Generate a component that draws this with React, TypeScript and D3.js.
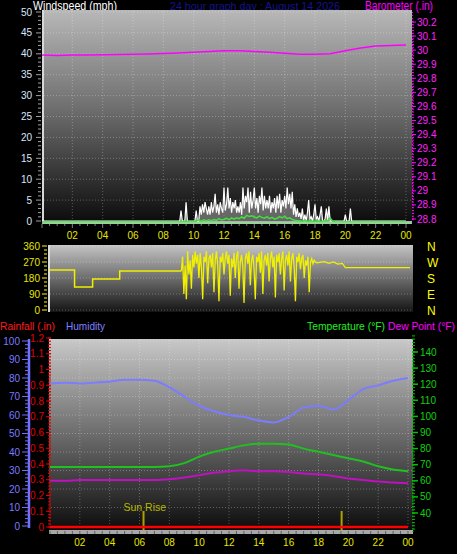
import React from 'react';
import * as d3 from 'd3';

const TITLE = '24 hour graph day : August 14 2026';
const HOUR_TICKS = [2, 4, 6, 8, 10, 12, 14, 16, 18, 20, 22, 24];
const HOUR_LABELS = ['02', '04', '06', '08', '10', '12', '14', '16', '18', '20', '22', '00'];

// Barometer (inHg), hourly 0..24
const BARO_HOURS = [0,1,2,3,4,5,6,7,8,9,10,11,12,13,14,15,16,17,18,19,20,21,22,23,24];
const BARO_VALUES = [29.965,29.962,29.965,29.966,29.968,29.969,29.97,29.973,29.976,29.98,29.985,29.99,29.995,29.996,29.99,29.985,29.978,29.97,29.97,29.975,29.995,30.015,30.03,30.033,30.037];

// Wind gust (mph), 5-minute samples starting 09:00
const GUST_START = 9;
const GUST_VALUES = [
  0,0,2.5,0,0,0,4.5,0,0,0,0,0,
  0,0,2.5,0,0,3.5,1.5,4,2,4.5,3,1.5,
  3.5,1.5,4.5,2,3.5,6.5,2,4,1.5,4.5,3,2,
  8,2.5,4,8,3,5.5,2,4.5,3,5,2,3.5,
  2,4.5,1.5,8,3,6,4.5,8,2,7,3,5,
  8,3,5.5,2,6,4,8,2.5,6,3,5,3,
  6,2,4.5,3,5.5,2,6,3,6.5,2,5,3.5,
  6,3,8,4,6.5,3,7,1.5,4,1,3,1,
  2,0.5,3,0,1.5,0,2,5,0.5,1,0,1.5,
  4,0.5,1,0,1.5,3.5,0,0,0.5,3,0,3.5,
  0,0,0,0,0,0,0,0,0,0,0,0,
  1.5,0,0,0,3,0,0
];
// Average wind (mph), 10-minute samples starting 09:00
const AVG_START = 9;
const AVG_VALUES = [
  0,0,0,0.3,0,0,
  0,0.3,0.5,0.2,0.5,0.3,
  0.5,0.3,0.6,0.4,0.8,0.5,
  0.6,0.9,0.5,1.0,0.7,1.0,
  0.8,1.2,0.9,1.6,1.3,1.5,
  1.2,1.0,1.4,1.1,0.9,1.3,
  0.8,1.1,0.7,0.9,1.3,1.0,
  1.4,0.8,1.0,0.6,0.4,0.3,
  0.3,0.2,0.5,0.1,0.3,0.2,
  0.2,0.3,0.1,0.2,0.4,0.3,
  1.0,0.2,0,0,0,0
];

// Wind direction (degrees)
const DIR_CALM_HOURS = [0, 1.7, 2.9, 4.7, 8.8];
const DIR_CALM_VALUES = [225, 130, 175, 220, 220];
const DIR_GUSTY_START = 8.8;
const DIR_GUSTY_VALUES = [
  220,300,90,250,60,330,200,280,120,310,240,330,
  260,310,180,320,240,60,300,270,330,150,290,310,
  240,320,100,280,330,250,50,300,270,320,200,290,
  330,260,310,80,290,240,320,180,300,330,120,270,
  310,250,40,290,320,260,330,140,280,310,230,60,
  300,270,320,210,330,90,280,310,250,320,160,290,
  330,240,300,70,310,270,320,200,290,330,110,280,
  310,250,330,160,290,320,240,50,300,270,320,230,
  290,310,180,280,250,300,100,270,290,260,280,270
];
const DIR_LATE_HOURS = [17.8, 18.3, 18.6, 18.9, 19.2, 19.5, 19.7, 24];
const DIR_LATE_VALUES = [265, 272, 262, 270, 258, 262, 238, 238];

// Bottom panel, hourly 0..24
const HOURS = [0,1,2,3,4,5,6,7,8,9,10,11,12,13,14,15,16,17,18,19,20,21,22,23,24];
const HUMIDITY = [77,77.5,77,77.5,78,79,79,78.5,75,70,65,62,60,59,57,56,59,64,65,63,68,74,76,78.5,80];
const TEMPERATURE = [68.5,68.5,68.5,68.5,68.5,68.5,68.6,68.6,69,71,75,78,80,82,83,83,82.5,80,78,76,74,72,69,67,66];
const DEW_POINT = [60,60,60.5,60.5,60.5,60.5,60.5,60.5,61,62,63.5,65,66,66.5,66,66,65.5,64.5,64,63,61.5,60.5,59.5,59,58.5];
const RAINFALL = [0,0,0,0,0,0,0,0,0,0,0,0,0,0,0,0,0,0,0,0,0,0,0,0,0];
const SUNRISE = 6.27;
const SUNSET = 19.55;

const FONT = '"Liberation Sans", Arial, sans-serif';

export default function App() {
  const xTop = d3.scaleLinear().domain([0, 24]).range([42, 406]);
  const yWind = d3.scaleLinear().domain([0, 50]).range([221, 12]);
  const yBaro = d3.scaleLinear().domain([28.8, 30.2]).range([219, 22]);

  const xMid = d3.scaleLinear().domain([0, 24]).range([49, 410]);
  const yDir = d3.scaleLinear().domain([0, 360]).range([310, 246]);

  const xBot = d3.scaleLinear().domain([0, 24]).range([50, 408]);
  const yHum = d3.scaleLinear().domain([0, 100]).range([526, 341]);
  const yRain = d3.scaleLinear().domain([0, 1.2]).range([527, 338]);
  const yTemp = d3.scaleLinear().domain([40, 140]).range([513, 352]);

  const baroPath = d3.line<number>().x((d, i) => xTop(BARO_HOURS[i])).y(d => yBaro(d))(BARO_VALUES);

  const gustPts: [number, number][] = [[0, 0], ...GUST_VALUES.map((v, i) => [GUST_START + i / 12, v] as [number, number]), [24, 0]];
  const gustLine = d3.line<[number, number]>().x(d => xTop(d[0])).y(d => yWind(d[1]))(gustPts);
  const gustArea = d3.area<[number, number]>().x(d => xTop(d[0])).y0(yWind(0)).y1(d => yWind(d[1]))(gustPts);
  const avgPts: [number, number][] = [[0, 0], ...AVG_VALUES.map((v, i) => [AVG_START + i / 6, v] as [number, number]), [24, 0]];
  const avgLine = d3.line<[number, number]>().x(d => xTop(d[0])).y(d => yWind(d[1]) + 1)(avgPts);

  const calmPts: [number, number][] = DIR_CALM_HOURS.map((h, i) => [h, DIR_CALM_VALUES[i]]);
  const calmPath = d3.line<[number, number]>().x(d => xMid(d[0])).y(d => yDir(d[1])).curve(d3.curveStepAfter)(calmPts);
  const gustyPts: [number, number][] = [
    ...DIR_GUSTY_VALUES.map((v, i) => [DIR_GUSTY_START + i / 12, v] as [number, number]),
    ...DIR_LATE_HOURS.map((h, i) => [h, DIR_LATE_VALUES[i]] as [number, number]),
  ];
  const gustyPath = d3.line<[number, number]>().x(d => xMid(d[0])).y(d => yDir(d[1]))(gustyPts);

  const humPath = d3.line<number>().x((d, i) => xBot(HOURS[i])).y(d => yHum(d)).curve(d3.curveMonotoneX)(HUMIDITY);
  const tempPath = d3.line<number>().x((d, i) => xBot(HOURS[i])).y(d => yTemp(d)).curve(d3.curveMonotoneX)(TEMPERATURE);
  const dewPath = d3.line<number>().x((d, i) => xBot(HOURS[i])).y(d => yTemp(d)).curve(d3.curveMonotoneX)(DEW_POINT);
  const rainPath = d3.line<number>().x((d, i) => xBot(HOURS[i])).y(d => yRain(d))(RAINFALL);

  const windTicks = d3.range(0, 51, 1);
  const baroTicks = d3.range(0, 15).map(i => 28.8 + i * 0.1);
  const baroMinor = d3.range(0, 71).map(i => 28.8 + i * 0.02);
  const dirTicks = [0, 90, 180, 270, 360];
  const dirMinor = d3.range(0, 361, 22.5);
  const humTicks = d3.range(0, 101, 10);
  const humMinor = d3.range(0, 101, 2);
  const rainTicks = d3.range(0, 13).map(i => i / 10);
  const rainMinor = d3.range(0, 61).map(i => i / 50);
  const tempTicks = d3.range(40, 141, 10);
  const tempMinor = d3.range(30, 151, 2);
  const halfHours = d3.range(0, 49).map(i => i / 2);

  const gridStyle = { stroke: 'rgba(255,255,255,0.28)', strokeWidth: 1, strokeDasharray: '1,2' };
  const fit = { lengthAdjust: 'spacingAndGlyphs' as const };

  return (
    <svg width={457} height={554} style={{ position: 'absolute', left: 0, top: 0, background: '#000' }} fontFamily={FONT}>
      <defs>
        <linearGradient id="gTop" x1="0" y1="0" x2="0" y2="1">
          <stop offset="0" stopColor="#b8b8b8" />
          <stop offset="0.45" stopColor="#707070" />
          <stop offset="1" stopColor="#0a0a0a" />
        </linearGradient>
        <linearGradient id="gMid" x1="0" y1="0" x2="0" y2="1">
          <stop offset="0" stopColor="#c4c4c4" />
          <stop offset="1" stopColor="#141414" />
        </linearGradient>
        <linearGradient id="gBot" x1="0" y1="0" x2="0" y2="1">
          <stop offset="0" stopColor="#c8c8c8" />
          <stop offset="0.5" stopColor="#6a6a6a" />
          <stop offset="1" stopColor="#080808" />
        </linearGradient>
      </defs>
      <rect x={0} y={0} width={457} height={554} fill="#000" />

      {/* Header */}
      <text x={33} y={10} fill="#ffffff" fontSize={12} textLength={84} {...fit}>Windspeed (mph)</text>
      <text x={170} y={10} fill="#14148c" fontSize={11} textLength={170} {...fit}>{TITLE}</text>
      <text x={365} y={10} fill="#ff00ff" fontSize={12} textLength={68} {...fit}>Barometer (.in)</text>

      {/* Top panel */}
      <rect x={42} y={10} width={370} height={214} fill="url(#gTop)" />
      <rect x={42} y={10} width={2} height={214} fill="#d8d8d8" />
      <rect x={42} y={221} width={370} height={3} fill="#b0b0b0" />
      {d3.range(5, 51, 5).map(v => (
        <line key={'tg' + v} x1={44} x2={411} y1={yWind(v)} y2={yWind(v)} style={gridStyle} />
      ))}
      {HOUR_TICKS.map(h => (
        <line key={'tv' + h} x1={xTop(h)} x2={xTop(h)} y1={11} y2={221} style={gridStyle} />
      ))}
      {windTicks.map(v => (
        <line key={'wt' + v} x1={v % 5 === 0 ? 36 : 38} x2={41} y1={yWind(v)} y2={yWind(v)} stroke="#a0a0a0" strokeWidth={1} />
      ))}
      {d3.range(0, 51, 5).map(v => (
        <text key={'wl' + v} x={32} y={yWind(v) + 3.5} fill="#dbe6ff" fontSize={10} textAnchor="end">{v}</text>
      ))}
      <line x1={412.5} x2={412.5} y1={12} y2={222} stroke="#ff00ff" strokeWidth={1} strokeDasharray="1,2" />
      {baroMinor.map((v, i) => (
        <line key={'bm' + i} x1={412} x2={414} y1={yBaro(v)} y2={yBaro(v)} stroke="#ff00ff" strokeWidth={1} />
      ))}
      {baroTicks.map((v, i) => (
        <g key={'bt' + i}>
          <line x1={412} x2={416} y1={yBaro(v)} y2={yBaro(v)} stroke="#ff00ff" strokeWidth={1} />
          <text x={417} y={yBaro(v) + 3.5} fill="#ff22ff" fontSize={10}>{String(+v.toFixed(1))}</text>
        </g>
      ))}
      {halfHours.map(h => (
        <line key={'tx' + h} x1={xTop(h)} x2={xTop(h)} y1={224} y2={h % 2 === 0 ? 228 : 226} stroke="#808080" strokeWidth={1} />
      ))}
      {HOUR_TICKS.map((h, i) => (
        <text key={'txl' + h} x={xTop(h)} y={239} fill="#e6e600" fontSize={10} textAnchor="middle">{HOUR_LABELS[i]}</text>
      ))}
      <path d={gustArea || ''} fill="#a0a0a0" fillOpacity={0.6} />
      <path d={gustLine || ''} fill="none" stroke="#ffffff" strokeWidth={1.2} />
      <path d={avgLine || ''} fill="none" stroke="#3ee03e" strokeWidth={1.5} />
      <line x1={43} x2={411} y1={yWind(0) + 2} y2={yWind(0) + 2} stroke="#90e090" strokeWidth={1.5} />
      <path d={baroPath || ''} fill="none" stroke="#ff00ff" strokeWidth={1.5} />

      {/* Middle panel (wind direction) */}
      <rect x={48} y={245} width={365} height={67} fill="url(#gMid)" />
      <rect x={48} y={245} width={2} height={67} fill="#dcdcdc" />
      {dirTicks.map(v => (
        <line key={'dg' + v} x1={50} x2={412} y1={yDir(v)} y2={yDir(v)} style={gridStyle} />
      ))}
      {dirMinor.map(v => (
        <line key={'dm' + v} x1={v % 90 === 0 ? 42 : 44} x2={47} y1={yDir(v)} y2={yDir(v)} stroke="#a8a800" strokeWidth={1.5} />
      ))}
      {dirTicks.map(v => (
        <text key={'dl' + v} x={40} y={yDir(v) + 3.5} fill="#e6e600" fontSize={10} textAnchor="end">{v}</text>
      ))}
      {['N', 'W', 'S', 'E', 'N'].map((c, i) => (
        <text key={'cp' + i} x={427} y={yDir(360 - i * 90) + 4.5} fill="#ffff00" fontSize={12}>{c}</text>
      ))}
      <path d={calmPath || ''} fill="none" stroke="#f0f000" strokeWidth={1.5} />
      <path d={gustyPath || ''} fill="none" stroke="#f0f000" strokeWidth={1.3} />

      {/* Bottom panel */}
      <text x={0} y={330} fill="#ff1a1a" fontSize={11.5} textLength={55} {...fit}>Rainfall (.in)</text>
      <text x={66} y={330} fill="#8080ff" fontSize={11.5} textLength={39} {...fit}>Humidity</text>
      <text x={307} y={330} fill="#22ee22" fontSize={10.5} textLength={78} {...fit}>Temperature (°F)</text>
      <text x={388} y={330} fill="#ff00ff" fontSize={10.5} textLength={67} {...fit}>Dew Point (°F)</text>

      <rect x={49} y={339} width={364} height={195} fill="url(#gBot)" />
      <rect x={49} y={530} width={364} height={4} fill="#a8a8a8" />
      {humTicks.filter(v => v > 0).map(v => (
        <line key={'hg' + v} x1={51} x2={412} y1={yHum(v)} y2={yHum(v)} style={gridStyle} />
      ))}
      {HOUR_TICKS.map(h => (
        <line key={'bv' + h} x1={xBot(h)} x2={xBot(h)} y1={340} y2={529} style={gridStyle} />
      ))}
      {halfHours.map(h => (
        <line key={'bx' + h} x1={xBot(h)} x2={xBot(h)} y1={531} y2={534} stroke="#606060" strokeWidth={1} />
      ))}
      {HOUR_TICKS.map((h, i) => (
        <text key={'bxl' + h} x={xBot(h)} y={546} fill="#e6e600" fontSize={10} textAnchor="middle">{HOUR_LABELS[i]}</text>
      ))}

      <line x1={29} x2={29} y1={339} y2={528} stroke="#7070ff" strokeWidth={2.5} />
      {humMinor.map(v => (
        <line key={'hm' + v} x1={v % 10 === 0 ? 22 : 25} x2={29} y1={yHum(v)} y2={yHum(v)} stroke="#7070ff" strokeWidth={1} />
      ))}
      {humTicks.map(v => (
        <text key={'hl' + v} x={20} y={yHum(v) + 3.5} fill="#7a7aff" fontSize={10} textAnchor="end">{v}</text>
      ))}
      <line x1={50} x2={50} y1={338} y2={528} stroke="#e00000" strokeWidth={1} strokeDasharray="1,2" />
      {rainMinor.map((v, i) => (
        <line key={'rm' + i} x1={48} x2={51} y1={yRain(v)} y2={yRain(v)} stroke="#e00000" strokeWidth={1} />
      ))}
      {rainTicks.map((v, i) => (
        <g key={'rt' + i}>
          <line x1={46} x2={51} y1={yRain(v)} y2={yRain(v)} stroke="#e00000" strokeWidth={1} />
          <text x={44} y={yRain(v) + 3.5} fill="#e00000" fontSize={10} textAnchor="end">{String(+v.toFixed(1))}</text>
        </g>
      ))}
      <line x1={413} x2={413} y1={339} y2={532} stroke="#00c000" strokeWidth={1} strokeDasharray="1,2" />
      {tempMinor.map(v => (
        <line key={'tm' + v} x1={412} x2={415} y1={yTemp(v)} y2={yTemp(v)} stroke="#00c000" strokeWidth={1} />
      ))}
      {tempTicks.map(v => (
        <g key={'tt' + v}>
          <line x1={412} x2={418} y1={yTemp(v)} y2={yTemp(v)} stroke="#00c000" strokeWidth={1.5} />
          <text x={420} y={yTemp(v) + 3.5} fill="#10d010" fontSize={10}>{v}</text>
        </g>
      ))}

      <text x={xBot(SUNRISE) - 20} y={511} fill="#b8b800" fontSize={10.5}>Sun Rise</text>
      <line x1={xBot(SUNRISE)} x2={xBot(SUNRISE)} y1={511} y2={530} stroke="#b0a000" strokeWidth={2} />
      <line x1={xBot(SUNSET)} x2={xBot(SUNSET)} y1={511} y2={530} stroke="#b0a000" strokeWidth={2} />

      <path d={humPath || ''} fill="none" stroke="#7c7cff" strokeWidth={2} />
      <path d={tempPath || ''} fill="none" stroke="#20c020" strokeWidth={2} />
      <path d={dewPath || ''} fill="none" stroke="#c010c0" strokeWidth={2} />
      <path d={rainPath || ''} fill="none" stroke="#ff0000" strokeWidth={2.5} />
    </svg>
  );
}
